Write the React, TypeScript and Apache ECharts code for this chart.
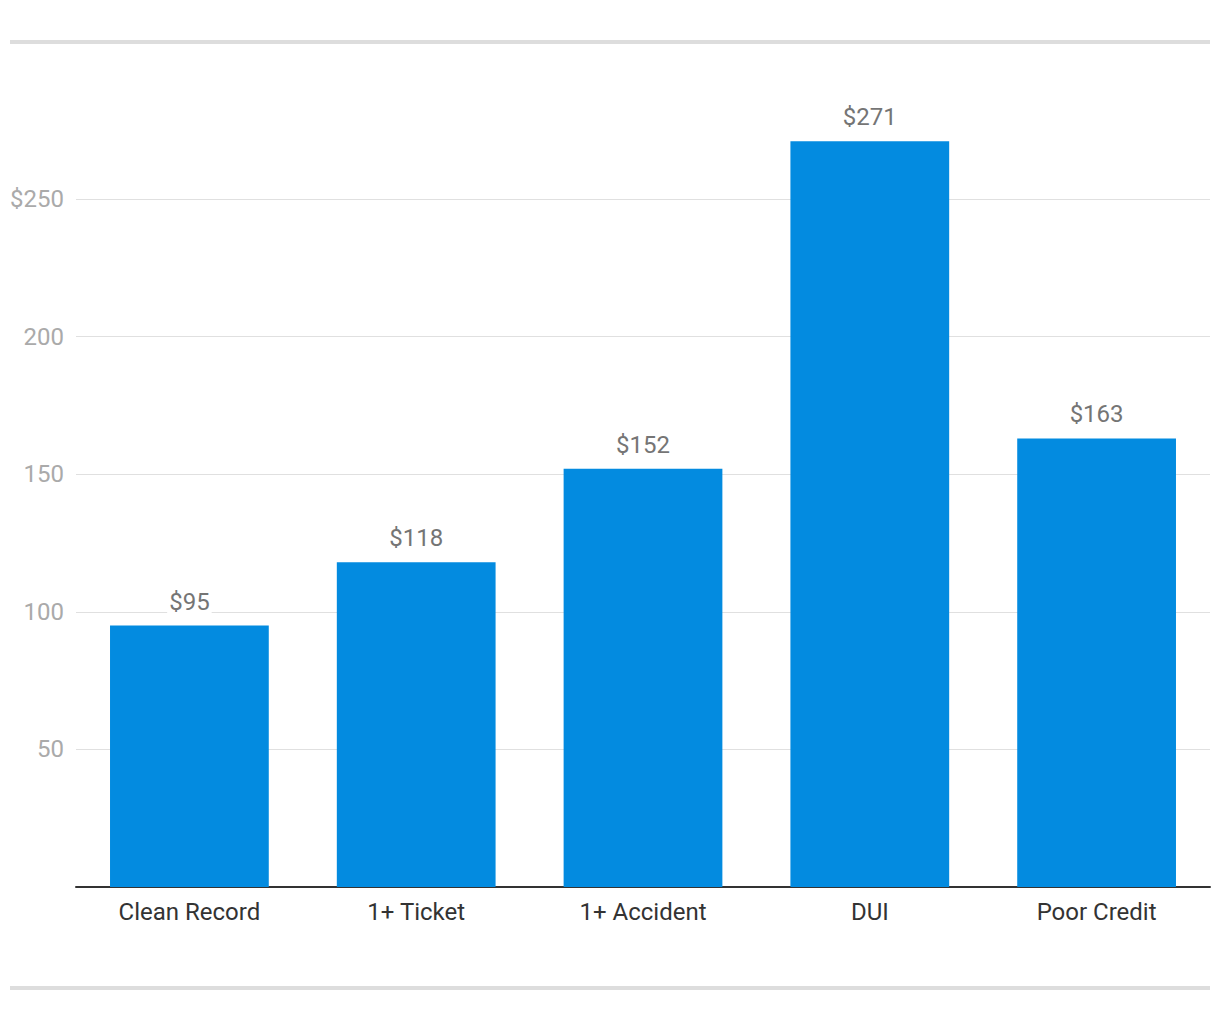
import React, { useEffect, useRef } from "react";
import * as echarts from "echarts";

const categories = ["Clean Record", "1+ Ticket", "1+ Accident", "DUI", "Poor Credit"];
const values = [95, 118, 152, 271, 163];
const yTicks = [0, 50, 100, 150, 200, 250];

export default function App() {
  const ref = useRef<HTMLDivElement>(null);
  useEffect(() => {
    document.body.style.margin = "0";
    const chart = echarts.init(ref.current!, null, { renderer: "svg" });
    chart.setOption({
      animation: false,
      backgroundColor: "#ffffff",
      textStyle: { fontFamily: "Roboto" },
      grid: { left: 76, right: 10, top: 61.4, bottom: 133, containLabel: false },
      graphic: [
        { type: "rect", shape: { x: 10, y: 40, width: 1200, height: 4 }, style: { fill: "#dddddd" } },
        { type: "rect", shape: { x: 10, y: 986, width: 1200, height: 4 }, style: { fill: "#dddddd" } },
      ],
      xAxis: {
        type: "category",
        data: categories,
        axisTick: { show: false },
        axisLine: { lineStyle: { color: "#333333", width: 2 } },
        axisLabel: { color: "#333333", fontSize: 24, margin: 13, fontFamily: "Roboto" },
      },
      yAxis: {
        type: "value",
        min: 0,
        max: 300,
        interval: 50,
        axisLine: { show: false },
        axisTick: { show: false },
        splitLine: { lineStyle: { color: "#e0e0e0", width: 1 }, showMaxLine: false, showMinLine: false },
        axisLabel: {
          color: "#aaaaaa",
          fontSize: 24,
          margin: 12,
          fontFamily: "Roboto",
          showMaxLabel: false,
          formatter: (v: number) => {
            if (v === 0 || !yTicks.includes(v)) return "";
            return v === yTicks[yTicks.length - 1] ? "$" + v : String(v);
          },
        },
      },
      series: [
        {
          type: "bar",
          data: values,
          barWidth: "70%",
          itemStyle: { color: "#038be0" },
          label: {
            show: true,
            position: "top",
            distance: 12,
            color: "#757575",
            fontSize: 24,
            fontFamily: "Roboto",
            backgroundColor: "#ffffff",
            padding: [0, 2],
            formatter: (p: any) => "$" + p.value,
          },
        },
      ],
    });
    return () => chart.dispose();
  }, []);
  return <div ref={ref} style={{ width: 1220, height: 1020 }} />;
}
